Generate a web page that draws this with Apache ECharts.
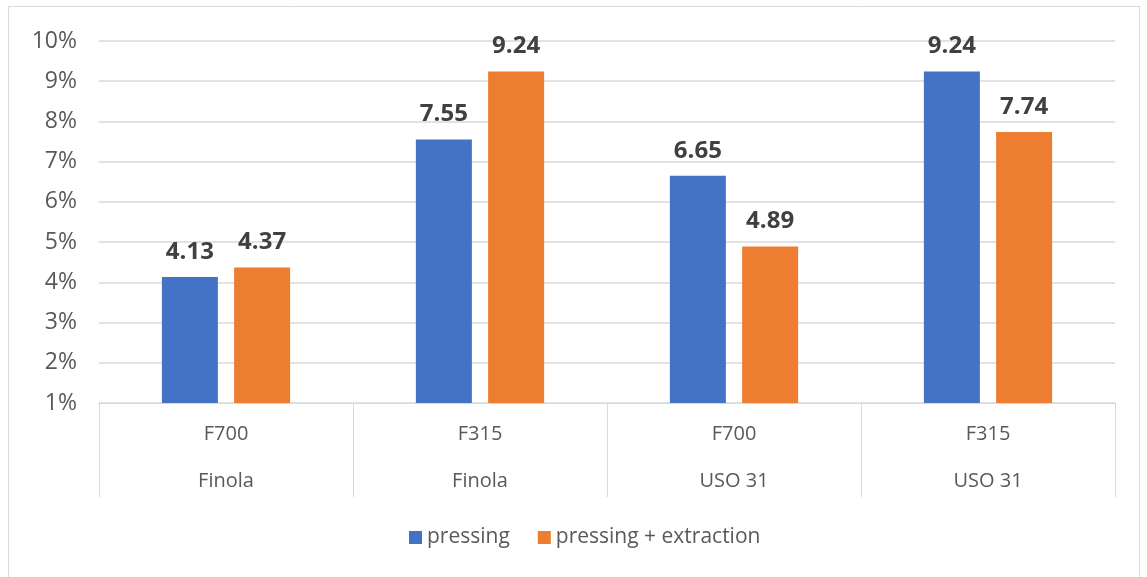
<!DOCTYPE html>
<html><head><meta charset="utf-8">
<script src="https://cdn.jsdelivr.net/npm/echarts@6/dist/echarts.min.js"></script>
<style>html,body{margin:0;padding:0;background:#fff}#c{width:1147px;height:577px}</style>
</head><body><div id="c"></div>
<script>
const varieties = ['F700', 'F315', 'F700', 'F315'];
const groups = ['Finola', 'Finola', 'USO 31', 'USO 31'];
const seriesNames = ['pressing', 'pressing + extraction'];
const pressing = [4.13, 7.55, 6.65, 9.24];
const extraction = [4.37, 9.24, 4.89, 7.74];
const yTicks = [1, 10, 1]; // min, max, interval

const FONT = '"Open Sans", "Noto Sans", sans-serif';
const chart = echarts.init(document.getElementById('c'), null, {renderer: 'canvas'});
const catLabels = varieties.map((v, i) => v + '\n' + groups[i]);
const lbl = {show: true, position: 'top', distance: 13, fontFamily: FONT, fontSize: 24, fontWeight: 'bold', color: '#404040',
  formatter: p => p.value.toFixed(2)};
chart.setOption({
  animation: false,
  textStyle: {fontFamily: FONT},
  graphic: [{type: 'rect', shape: {x: 8.5, y: 6.5, width: 1131, height: 600}, style: {fill: 'none', stroke: '#d9d9d9', lineWidth: 1}, silent: true}],
  grid: {left: 99, right: 32, top: 41, bottom: 174},
  legend: {bottom: 24, left: 404, itemWidth: 13, itemHeight: 13, itemGap: 28, icon: 'rect',
    textStyle: {fontFamily: FONT, fontSize: 21, color: '#595959', padding: [0, 0, 0, 0]},
    data: seriesNames},
  xAxis: {type: 'category', data: catLabels, boundaryGap: true,
    axisLine: {lineStyle: {color: '#d9d9d9', width: 1}},
    axisTick: {show: true, length: 94, interval: 0, lineStyle: {color: '#d9d9d9'}},
    axisLabel: {interval: 0, margin: 8, fontFamily: FONT, fontSize: 20, color: '#595959', lineHeight: 47}},
  yAxis: {type: 'value', min: yTicks[0], max: yTicks[1], interval: yTicks[2],
    axisLine: {show: false}, axisTick: {show: false},
    splitLine: {lineStyle: {color: '#d9d9d9', width: 1.5}},
    axisLabel: {formatter: '{value}%', margin: 22, fontFamily: FONT, fontSize: 23, color: '#595959'}},
  series: [
    {name: seriesNames[0], type: 'bar', data: pressing, barWidth: 56, barGap: '29%', itemStyle: {color: '#4472C4'}, label: lbl},
    {name: seriesNames[1], type: 'bar', data: extraction, barWidth: 56, barGap: '29%', itemStyle: {color: '#ED7D31'}, label: lbl}
  ]
});
</script></body></html>
